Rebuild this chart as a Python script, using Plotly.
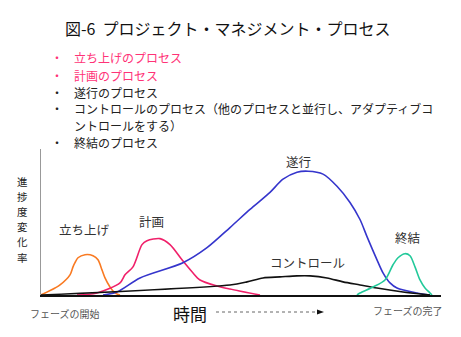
import plotly.graph_objects as go

# ---- data (time 0-100, progress-change rate 0-100) ----
start_x = [0, 3.5, 4.75, 7.25, 8, 8.5, 9.25, 11, 13, 14.25, 15.25, 16, 17.25, 18.5, 19.75]
start_y = [0, 4.8, 6.9, 13.8, 19.3, 22.1, 25.5, 27.6, 26.9, 24.1, 17.2, 11.7, 5.5, 1.4, 0]

plan_x = [9, 14, 19.75, 21, 23, 25.25, 26.5, 29.75, 32.25, 35.25, 37.75, 39.75, 44, 47.25, 54.75]
plan_y = [0, 1.4, 8.3, 13.8, 19.3, 34.5, 37.2, 38.6, 34.5, 24.1, 15.9, 10.3, 6.2, 4.1, 0]

exec_x = [15.5, 19, 24.75, 35.5, 41.5, 47.25, 52.25, 57.25, 60.5, 64, 66.75, 70.5, 74, 77.25,
          79.75, 81.5, 84, 85.5, 87.25, 89, 94, 97.25]
exec_y = [0, 2.1, 11.7, 22.1, 32.4, 46.2, 58.6, 70.3, 79.3, 84.1, 84.8, 82.8, 74.5, 63.4,
          51.7, 40, 24.1, 15.2, 8.3, 4.8, 1.4, 0]

ctrl_x = [0, 47.25, 51.5, 55.5, 59.75, 64, 67.25, 71.5, 75.5, 79.75, 84, 90.5, 97.25]
ctrl_y = [0, 6.9, 9.0, 11.7, 12.4, 13.1, 13.1, 11.7, 9.0, 6.9, 4.8, 2.1, 0]

close_x = [79, 79.75, 83, 86, 88, 89.25, 91, 92.25, 93.5, 94.75, 96, 97.25, 97.75]
close_y = [0, 1.4, 5.5, 10.3, 20.7, 25.5, 28.3, 26.9, 19.3, 10.3, 4.8, 1.4, 0]

series = [
    ("立ち上げ", start_x, start_y, "#f97a22", 10.75, 44.8),
    ("計画", plan_x, plan_y, "#f0206a", 27.5, 50.3),
    ("遂行", exec_x, exec_y, "#3535cc", 64.25, 91.5),
    ("コントロール", ctrl_x, ctrl_y, "#111111", 66.5, 22.0),
    ("終結", close_x, close_y, "#22c99a", 91.5, 39.3),
]

title = "図-6  プロジェクト・マネジメント・プロセス"
bullets = [
    ("立ち上げのプロセス", "#ff3377", True),
    ("計画のプロセス", "#ff3377", True),
    ("遂行のプロセス", "#222222", True),
    ("コントロールのプロセス（他のプロセスと並行し、アダプティブコ", "#222222", True),
    ("ントロールをする）", "#222222", False),
    ("終結のプロセス", "#222222", True),
]
y_label = "進捗度変化率"
x_label = "時間"
phase_start = "フェーズの開始"
phase_end = "フェーズの完了"

W, H = 461, 337
FONT = "Noto Sans CJK JP, Noto Sans, sans-serif"

def px(x):
    return x / W

def py(y):
    return 1 - y / H

def txt(x, y, text, size, color, xanchor="center"):
    return dict(x=px(x), y=py(y), xref="paper", yref="paper", text=text, showarrow=False,
                xanchor=xanchor, yanchor="middle",
                font=dict(family=FONT, size=size, color=color))

fig = go.Figure()
for name, xs, ys, col, lx, ly in series:
    fig.add_trace(go.Scatter(x=xs, y=ys, mode="lines", name=name,
                             line=dict(color=col, width=1.6, shape="spline", smoothing=0.8),
                             hoverinfo="skip", showlegend=False))

ann = []
for name, xs, ys, col, lx, ly in series:
    ann.append(dict(x=lx, y=ly, xref="x", yref="y", text=name, showarrow=False,
                    xanchor="center", yanchor="middle",
                    font=dict(family=FONT, size=12.5, color="#333333")))

ann.append(txt(228, 28, title, 16, "#111111"))

ys_b = [58, 75.5, 92, 109, 125, 142]
for (t, c, dot), yb in zip(bullets, ys_b):
    if dot:
        ann.append(txt(57, yb, "・", 12, c))
    ann.append(txt(72, yb, t, 12, c, xanchor="left"))

for i, ch in enumerate(y_label):
    ann.append(txt(22, 181 + i * 15.2, ch, 10.5, "#222222"))

ann.append(txt(189.5, 313, x_label, 17, "#111111"))
ann.append(txt(65, 313, phase_start, 10, "#555555"))
ann.append(txt(408, 310, phase_end, 10, "#555555"))

shapes = [
    dict(type="line", xref="paper", yref="paper", x0=px(216), x1=px(318), y0=py(312), y1=py(312),
         line=dict(color="#666666", width=1, dash="dot")),
    dict(type="path", xref="paper", yref="paper",
         path=f"M {px(317)},{py(309.5)} L {px(324)},{py(312)} L {px(317)},{py(314.5)} Z",
         fillcolor="#111111", line=dict(width=0)),
]

fig.update_layout(
    width=W, height=H, margin=dict(l=0, r=0, t=0, b=0),
    paper_bgcolor="white", plot_bgcolor="white",
    annotations=ann, shapes=shapes, showlegend=False,
    xaxis=dict(domain=[41 / W, 441 / W], range=[0, 100], showgrid=False, zeroline=False,
               showticklabels=False, ticks="", showline=True, linecolor="#111111", linewidth=1.6),
    yaxis=dict(domain=[(H - 295) / H, (H - 149) / H], range=[0, 100], showgrid=False,
               zeroline=False, showticklabels=False, ticks="", showline=True,
               linecolor="#999999", linewidth=1),
)

fig.write_html("out.html")
